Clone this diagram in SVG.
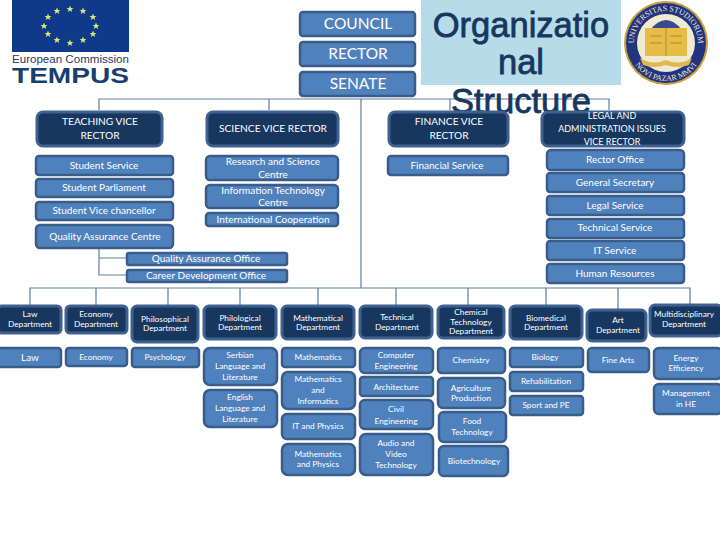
<svg xmlns="http://www.w3.org/2000/svg" width="720" height="540" viewBox="0 0 720 540">
<style>
text{font-family:"Lato","Liberation Sans",sans-serif;fill:#fff;text-anchor:middle}
.b{fill:#4f81bd;stroke:#385d8a;stroke-width:2.5}
.d{fill:#17375e;stroke:#3f618f;stroke-width:3}
.t1{font-size:15.5px}.t2{font-size:10.2px}.t3{font-size:10px}.t4{font-size:9px}.t5{font-size:8.3px}
.c{fill:none;stroke:#5f7f9a;stroke-width:1.2}
.title{font-family:"Liberation Sans",sans-serif;font-size:34.5px;fill:#17375e;stroke:#17375e;stroke-width:.8}
.star{fill:#dfe86a}
</style>
<defs>
<polygon id="s" class="star" points="0,-3.4 1,-1 3.4,-1 1.5,.5 2.2,3 0,1.5 -2.2,3 -1.5,.5 -3.4,-1 -1,-1"/>
<path id="sa" d="M634,43a32,32 0 0 1 64,0"/>
<path id="sb" d="M628,43a38,38 0 0 0 76,0"/>
</defs>

<g id="logo-tempus">
<rect x="12" y="0" width="117" height="52" fill="#0f3a8c"/>
<use href="#s" x="70" y="9"/><use href="#s" x="83" y="11"/><use href="#s" x="93" y="17"/><use href="#s" x="96" y="26"/><use href="#s" x="93" y="34"/><use href="#s" x="83" y="40"/><use href="#s" x="70" y="43"/><use href="#s" x="57" y="40"/><use href="#s" x="48" y="34"/><use href="#s" x="44" y="26"/><use href="#s" x="48" y="17"/><use href="#s" x="57" y="11"/>
<text x="70.500" y="63" textLength="117" lengthAdjust="spacingAndGlyphs" style="font-family:'Liberation Sans',sans-serif;font-size:10px;fill:#1f3a64">European Commission</text>
<text x="70.500" y="83" textLength="117" lengthAdjust="spacingAndGlyphs" style="font-family:'Liberation Sans',sans-serif;font-size:22px;font-weight:bold;fill:#17406f">TEMPUS</text>
</g>

<g id="title">
<rect x="421" y="0" width="200" height="85" fill="#b7dce9"/>
</g>

<g id="seal">
<circle cx="666" cy="43" r="42" fill="#c9a03c"/>
<circle cx="666" cy="43" r="40" fill="#22347f"/>
<circle cx="666" cy="43" r="29" fill="#f0ead0"/>
<path d="M650,30q16,-20 32,0z" fill="#3a4a90"/>
<rect x="645" y="28" width="42" height="28" fill="#e6bc48"/>
<path d="M666,28v28M650,36h12M650,43h12M670,36h12M670,43h12" stroke="#b08a2c" stroke-width="1" fill="none"/>
<path d="M640,58q13,8 26,2q13,6 26,-2l-3,7q-11,4 -23,0q-12,4 -23,0z" fill="#e0b850"/>
<text style="font-family:'Liberation Serif',serif;font-size:8px;fill:#f3ecd0;text-anchor:middle"><textPath href="#sa" startOffset="50%">UNIVERSITAS STUDIORUM</textPath></text>
<text style="font-family:'Liberation Serif',serif;font-size:8px;fill:#f3ecd0;text-anchor:middle"><textPath href="#sb" startOffset="50%">NOVI PAZAR MMVI</textPath></text>
</g>

<g id="connectors" class="c">
<path d="M99,110V99H609V110M269,99V110M450,99V110M361,99V288M30,305V288H690V305M96,288V305M168,288V305M240,288V305M318,288V305M396,288V305M468,288V305M546,288V305M618,288V309M99,248V275H127M99,258H127"/>
</g>

<text class="title" x="521" y="37">Organizatio</text>
<text class="title" x="521" y="74">nal</text>
<text class="title" x="521" y="113">Structure</text>

<g id="council"><rect class="b" x="300" y="12" width="115" height="24" rx="3"/><text class="t1" x="358" y="29">COUNCIL</text></g>
<g id="rector"><rect class="b" x="300" y="42" width="115" height="24" rx="3"/><text class="t1" x="358" y="59">RECTOR</text></g>
<g id="senate"><rect class="b" x="300" y="72" width="115" height="24" rx="3"/><text class="t1" x="358" y="89">SENATE</text></g>

<g id="teaching"><rect class="d" x="37" y="112" width="125" height="34" rx="6"/><text class="t2" x="100" y="125">TEACHING VICE</text><text class="t2" x="100" y="139">RECTOR</text></g>
<g id="science"><rect class="d" x="207" y="112" width="131" height="34" rx="6"/><text class="t2" x="273" y="132">SCIENCE VICE RECTOR</text></g>
<g id="finance"><rect class="d" x="389" y="112" width="119" height="34" rx="6"/><text class="t2" x="449" y="125">FINANCE VICE</text><text class="t2" x="449" y="139">RECTOR</text></g>
<g id="legal-admin"><rect class="d" x="542" y="112" width="142" height="34" rx="6"/><text class="t4" x="612" y="119">LEGAL AND</text><text class="t4" x="612" y="132">ADMINISTRATION ISSUES</text><text class="t4" x="612" y="145">VICE RECTOR</text></g>

<g id="student-service"><rect class="b" x="36" y="156" width="137" height="19" rx="3"/><text class="t3" x="104" y="169">Student Service</text></g>
<g id="student-parliament"><rect class="b" x="36" y="179" width="137" height="18" rx="3"/><text class="t3" x="104" y="191">Student Parliament</text></g>
<g id="student-vice"><rect class="b" x="36" y="202" width="137" height="18" rx="3"/><text class="t3" x="104" y="214">Student Vice chancellor</text></g>
<g id="qa-centre"><rect class="b" x="36" y="225" width="137" height="23" rx="4"/><text class="t3" x="105" y="240">Quality Assurance Centre</text></g>
<g id="qa-office"><rect class="b" x="127" y="253" width="160" height="12" rx="2"/><text class="t3" x="206" y="262">Quality Assurance Office</text></g>
<g id="career"><rect class="b" x="127" y="270" width="160" height="12" rx="2"/><text class="t3" x="206" y="279">Career Development Office</text></g>

<g id="research"><rect class="b" x="206" y="156" width="132" height="24" rx="4"/><text class="t3" x="273" y="165">Research and  Science</text><text class="t3" x="273" y="178">Centre</text></g>
<g id="info-tech"><rect class="b" x="206" y="185" width="132" height="23" rx="4"/><text class="t3" x="273" y="194">Information Technology</text><text class="t3" x="273" y="206">Centre</text></g>
<g id="intl"><rect class="b" x="206" y="213" width="132" height="13" rx="3"/><text class="t3" x="273" y="223">International Cooperation</text></g>

<g id="financial"><rect class="b" x="388" y="156" width="120" height="19" rx="3"/><text class="t3" x="447" y="169">Financial Service</text></g>

<g id="rector-office"><rect class="b" x="547" y="150" width="137" height="20" rx="4"/><text class="t3" x="615" y="163">Rector Office</text></g>
<g id="general"><rect class="b" x="547" y="173" width="137" height="19" rx="3"/><text class="t3" x="615" y="186">General Secretary</text></g>
<g id="legal-service"><rect class="b" x="547" y="196" width="137" height="19" rx="3"/><text class="t3" x="615" y="209">Legal Service</text></g>
<g id="technical-service"><rect class="b" x="547" y="219" width="137" height="19" rx="3"/><text class="t3" x="615" y="231">Technical Service</text></g>
<g id="it-service"><rect class="b" x="547" y="241" width="137" height="19" rx="3"/><text class="t3" x="615" y="254">IT Service</text></g>
<g id="human"><rect class="b" x="547" y="264" width="137" height="19" rx="3"/><text class="t3" x="615" y="277">Human Resources</text></g>

<g id="d-law"><rect class="d" x="-2" y="306" width="63" height="27" rx="4"/><text class="t5" x="30" y="317">Law</text><text class="t5" x="30" y="327">Department</text></g>
<g id="d-economy"><rect class="d" x="66" y="306" width="61" height="27" rx="4"/><text class="t5" x="96" y="317">Economy</text><text class="t5" x="96" y="327">Department</text></g>
<g id="d-phil"><rect class="d" x="132" y="306" width="66" height="36" rx="5"/><text class="t5" x="165" y="322">Philosophical</text><text class="t5" x="165" y="331">Department</text></g>
<g id="d-philo"><rect class="d" x="204" y="306" width="72" height="33" rx="5"/><text class="t5" x="240" y="321">Philological</text><text class="t5" x="240" y="330">Department</text></g>
<g id="d-math"><rect class="d" x="282" y="306" width="72" height="33" rx="5"/><text class="t5" x="318" y="321">Mathematical</text><text class="t5" x="318" y="330">Department</text></g>
<g id="d-tech"><rect class="d" x="360" y="306" width="72" height="32" rx="5"/><text class="t5" x="397" y="320">Technical</text><text class="t5" x="397" y="330">Department</text></g>
<g id="d-chem"><rect class="d" x="438" y="306" width="66" height="32" rx="5"/><text class="t5" x="471" y="315">Chemical</text><text class="t5" x="471" y="325">Technology</text><text class="t5" x="471" y="334">Department</text></g>
<g id="d-bio"><rect class="d" x="510" y="306" width="72" height="33" rx="5"/><text class="t5" x="546" y="321">Biomedical</text><text class="t5" x="546" y="330">Department</text></g>
<g id="d-art"><rect class="d" x="587" y="310" width="59" height="31" rx="5"/><text class="t5" x="618" y="323">Art</text><text class="t5" x="618" y="333">Department</text></g>
<g id="d-multi"><rect class="d" x="650" y="305" width="72" height="31" rx="5"/><text class="t5" x="684" y="317">Multidisciplinary</text><text class="t5" x="684" y="327">Department</text></g>

<g id="law"><rect class="b" x="-2" y="348" width="63" height="19" rx="3"/><text class="t3" x="30" y="361">Law</text></g>
<g id="economy"><rect class="b" x="66" y="348" width="61" height="18" rx="3"/><text class="t5" x="96" y="360">Economy</text></g>
<g id="psychology"><rect class="b" x="132" y="348" width="67" height="19" rx="3"/><text class="t5" x="165" y="360">Psychology</text></g>
<g id="serbian"><rect class="b" x="204" y="348" width="73" height="37" rx="6"/><text class="t5" x="240" y="358">Serbian</text><text class="t5" x="240" y="369">Language and</text><text class="t5" x="240" y="380">Literature</text></g>
<g id="english"><rect class="b" x="204" y="390" width="73" height="37" rx="6"/><text class="t5" x="240" y="400">English</text><text class="t5" x="240" y="411">Language and</text><text class="t5" x="240" y="422">Literature</text></g>
<g id="mathematics"><rect class="b" x="282" y="348" width="73" height="19" rx="3"/><text class="t5" x="318" y="360">Mathematics</text></g>
<g id="math-inf"><rect class="b" x="282" y="372" width="73" height="37" rx="6"/><text class="t5" x="318" y="382">Mathematics</text><text class="t5" x="318" y="393">and</text><text class="t5" x="318" y="404">Informatics</text></g>
<g id="it-physics"><rect class="b" x="282" y="414" width="73" height="25" rx="5"/><text class="t5" x="318" y="429">IT and Physics</text></g>
<g id="math-physics"><rect class="b" x="282" y="444" width="73" height="31" rx="6"/><text class="t5" x="318" y="457">Mathematics</text><text class="t5" x="318" y="467">and Physics</text></g>
<g id="computer"><rect class="b" x="360" y="348" width="73" height="25" rx="5"/><text class="t5" x="396" y="358">Computer</text><text class="t5" x="396" y="369">Engineering</text></g>
<g id="architecture"><rect class="b" x="360" y="377" width="73" height="19" rx="3"/><text class="t5" x="396" y="390">Architecture</text></g>
<g id="civil"><rect class="b" x="360" y="400" width="73" height="29" rx="5"/><text class="t5" x="396" y="412">Civil</text><text class="t5" x="396" y="424">Engineering</text></g>
<g id="audio"><rect class="b" x="360" y="434" width="73" height="41" rx="6"/><text class="t5" x="396" y="446">Audio and</text><text class="t5" x="396" y="457">Video</text><text class="t5" x="396" y="468">Technology</text></g>
<g id="chemistry"><rect class="b" x="438" y="348" width="67" height="25" rx="4"/><text class="t5" x="471" y="363">Chemistry</text></g>
<g id="agri"><rect class="b" x="438" y="378" width="67" height="30" rx="5"/><text class="t5" x="471" y="391">Agriculture</text><text class="t5" x="471" y="401">Production</text></g>
<g id="food"><rect class="b" x="439" y="412" width="67" height="30" rx="5"/><text class="t5" x="472" y="424">Food</text><text class="t5" x="472" y="435">Technology</text></g>
<g id="biotech"><rect class="b" x="439" y="446" width="69" height="30" rx="5"/><text class="t5" x="474" y="464">Biotechnology</text></g>
<g id="biology"><rect class="b" x="510" y="348" width="73" height="19" rx="3"/><text class="t5" x="545" y="360">Biology</text></g>
<g id="rehab"><rect class="b" x="510" y="372" width="73" height="19" rx="3"/><text class="t5" x="546" y="384">Rehabilitation</text></g>
<g id="sport"><rect class="b" x="510" y="396" width="73" height="19" rx="3"/><text class="t5" x="546" y="408">Sport and PE</text></g>
<g id="fine-arts"><rect class="b" x="588" y="348" width="61" height="24" rx="4"/><text class="t5" x="618" y="363">Fine Arts</text></g>
<g id="energy"><rect class="b" x="654" y="348" width="68" height="31" rx="5"/><text class="t5" x="686" y="361">Energy</text><text class="t5" x="686" y="371">Efficiency</text></g>
<g id="management"><rect class="b" x="654" y="384" width="68" height="30" rx="5"/><text class="t5" x="686" y="396">Management</text><text class="t5" x="686" y="407">in HE</text></g>
</svg>
